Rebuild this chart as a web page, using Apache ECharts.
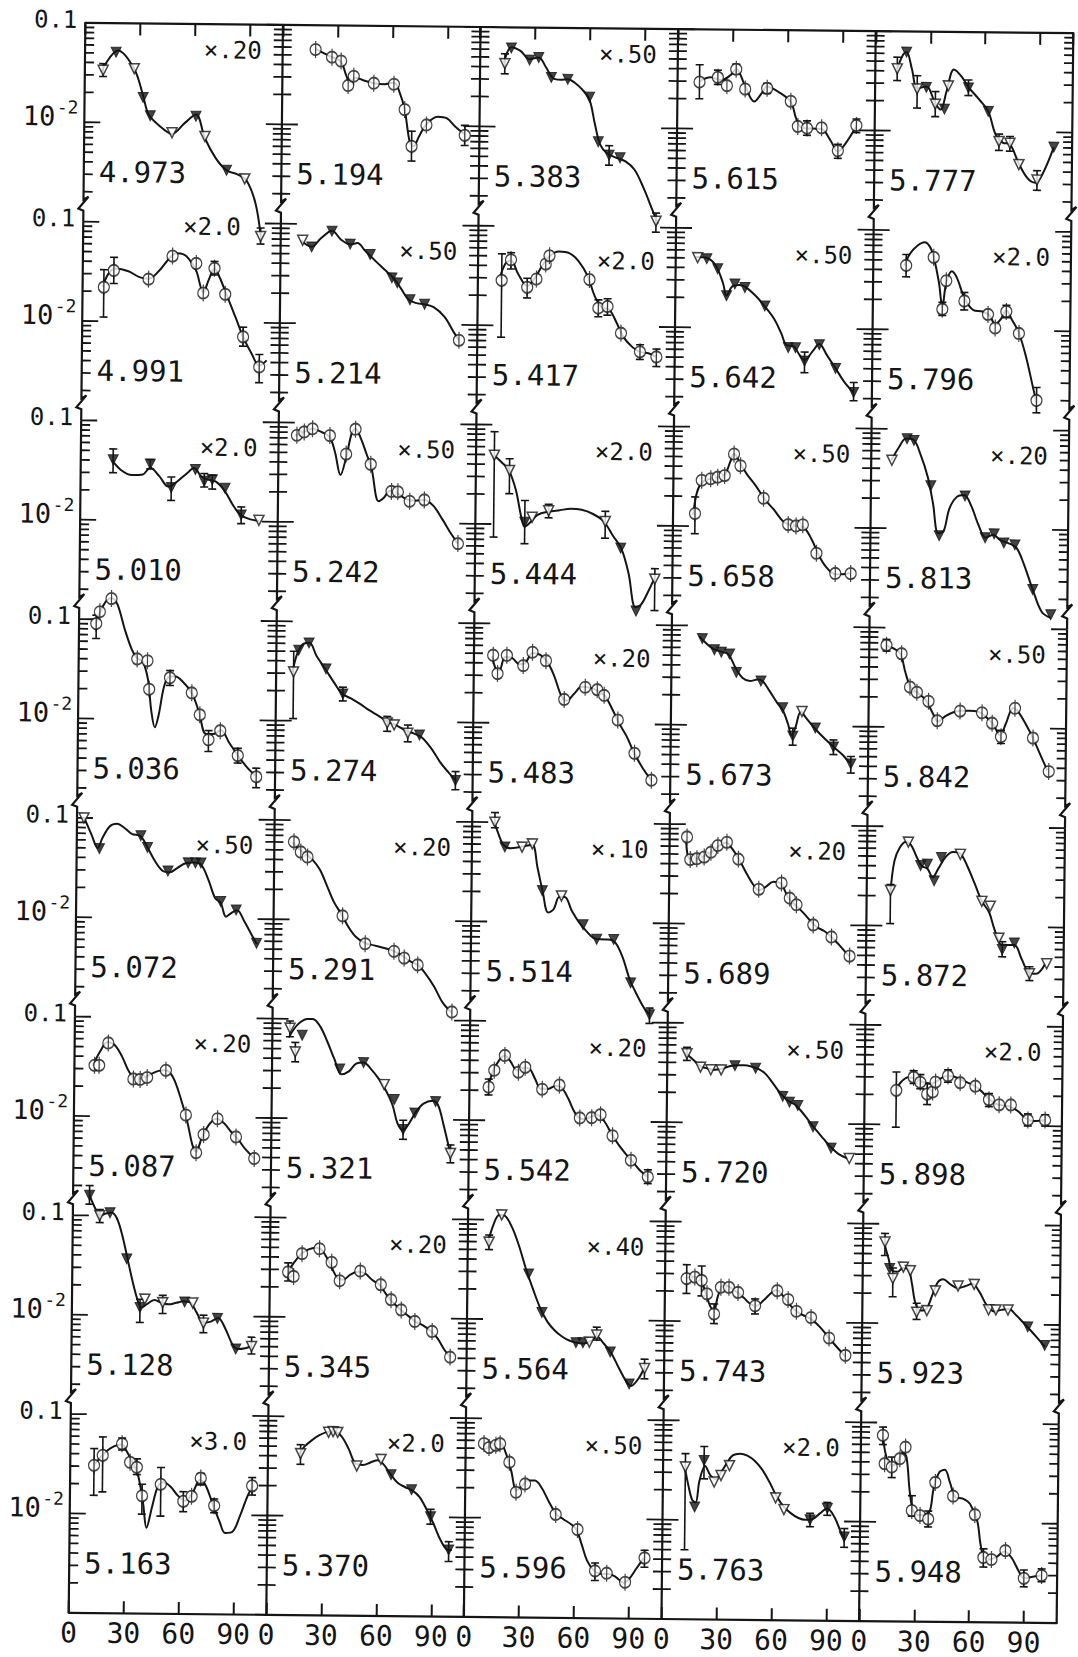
<!DOCTYPE html>
<html>
<head>
<meta charset="utf-8">
<script src="https://cdn.jsdelivr.net/npm/echarts@6/dist/echarts.min.js"></script>
<style>
  html, body { margin: 0; padding: 0; background: #fff; }
  #chart { width: 1078px; height: 1657px; transform: rotate(0.6deg); transform-origin: 571px 823px; }
</style>
</head>
<body>
<div id="chart"></div>
<script>
// Differential cross sections vs. scattering angle, 40 energies (GeV), log scale 1e-3 .. 1e-1.
// Point: [angle, value, kind, errLow?, errHigh?]  kind: o = circle, v = filled triangle, t = open triangle
// Fit: [angle, value] points along the calculated curve.

const ENERGIES = [
  '4.973', '4.991', '5.010', '5.036', '5.072', '5.087', '5.128', '5.163',
  '5.194', '5.214', '5.242', '5.274', '5.291', '5.321', '5.345', '5.370',
  '5.383', '5.417', '5.444', '5.483', '5.514', '5.542', '5.564', '5.596',
  '5.615', '5.642', '5.658', '5.673', '5.689', '5.720', '5.743', '5.763',
  '5.777', '5.796', '5.813', '5.842', '5.872', '5.898', '5.923', '5.948'
];
const SCALES = [
  '×.20', '×2.0', '×2.0', '', '×.50', '×.20', '', '×3.0',
  '', '×.50', '×.50', '', '×.20', '', '×.20', '×2.0',
  '×.50', '×2.0', '×2.0', '×.20', '×.10', '×.20', '×.40', '×.50',
  '', '×.50', '×.50', '', '×.20', '×.50', '', '×2.0',
  '', '×2.0', '×.20', '×.50', '', '×2.0', '', ''
];
const X_TICK_LABELS = ['0', '30', '60', '90'];
const Y_LABEL_TOP = '0.1';
const Y_LABEL_MID = ['10', '-2'];

// ---- column 1 ----
const p4973 = [[10,0.0335,'t',0.029,0.039],[17,0.051,'v'],[27,0.035,'t'],[32,0.018,'v'],[36,0.0118,'v'],[48,0.008,'t'],[61,0.0118,'v'],[66,0.0074,'t'],[78,0.0034,'v'],[88,0.0028,'t'],[97,0.00074,'t',0.00062,0.0009]];
const f4973 = [[9,0.0324],[18,0.0532],[27,0.0348],[32,0.0187],[35,0.0123],[41,0.0094],[48,0.0078],[55,0.0101],[61,0.0123],[66,0.0071],[72,0.0045],[78,0.0034],[84,0.0031],[89,0.0027],[94,0.0016],[97,0.00076]];
const p4991 = [[11.6,0.022,'o',0.011,0.033],[17,0.0325,'o',0.024,0.044],[36,0.0268,'o'],[49,0.046,'o'],[62,0.039,'o'],[66,0.0197,'o'],[72,0.035,'o',0.03,0.041],[78,0.0192,'o'],[88,0.0072,'o',0.0058,0.009],[97,0.0036,'o',0.0025,0.0048]];
const f4991 = [[11,0.022],[14,0.03],[18,0.034],[25,0.032],[31,0.028],[36,0.027],[42,0.033],[47,0.043],[51,0.049],[55,0.048],[58,0.043],[62,0.033],[66,0.02],[69,0.027],[72,0.035],[75,0.028],[79,0.0185],[84,0.011],[88,0.0072],[93,0.0048],[97,0.0037],[101,0.0042]];
const p5010 = [[17.7,0.0405,'v',0.03,0.052],[38,0.0369,'v',0.033,0.041],[49.6,0.0215,'v',0.016,0.0275],[62.7,0.0329,'v'],[67.6,0.0251,'v',0.022,0.03],[72,0.0261,'v',0.021,0.029],[79,0.0215,'v'],[88,0.0116,'v',0.0095,0.014],[97.7,0.0103,'t']];
const f5010 = [[17,0.04],[22,0.032],[28,0.0285],[34,0.029],[38,0.034],[43,0.028],[48,0.022],[53,0.025],[58,0.03],[62,0.034],[66,0.028],[70,0.026],[74,0.025],[79,0.02],[84,0.014],[88,0.0115],[93,0.0105],[98,0.0102]];
const p5036 = [[9.4,0.0906,'o',0.064,0.11],[11.3,0.119,'o'],[17.6,0.162,'o'],[32,0.0403,'o'],[37.6,0.0387,'o'],[38.7,0.02,'o'],[50,0.0263,'o',0.022,0.031],[62,0.0186,'o'],[66.5,0.0112,'o'],[71.4,0.0063,'o',0.0048,0.0078],[77.8,0.0078,'o'],[87.5,0.0044,'o',0.0037,0.0052],[97.7,0.0027,'o',0.0021,0.0033]];
const f5036 = [[9,0.09],[12,0.125],[15,0.155],[18,0.163],[21,0.14],[25,0.08],[29,0.05],[32,0.041],[35,0.038],[38,0.025],[40,0.012],[42,0.0083],[44,0.011],[47,0.022],[50,0.027],[53,0.027],[57,0.024],[62,0.0185],[66,0.012],[70,0.0072],[74,0.0072],[78,0.0079],[83,0.0058],[88,0.0043],[93,0.0033],[98,0.0027]];
const p5072 = [[3.8,0.1,'t'],[12.4,0.0493,'v'],[35,0.0671,'v'],[38.7,0.0512,'v'],[50,0.0298,'v'],[61,0.0362,'v'],[65,0.0362,'v'],[68,0.0362,'v'],[79,0.0149,'v'],[87.5,0.0123,'v'],[98.8,0.0057,'v']];
const f5072 = [[4,0.1],[8,0.068],[11.5,0.05],[14,0.063],[18,0.083],[22,0.088],[26,0.08],[30,0.07],[35,0.066],[39,0.05],[43,0.037],[47,0.03],[51,0.029],[55,0.032],[60,0.036],[64,0.0365],[68,0.035],[72,0.025],[76,0.016],[79,0.0145],[82,0.0105],[85,0.0115],[88,0.0122],[92,0.0095],[96,0.007],[99,0.0056]];
const p5087 = [[11,0.0325,'o'],[13.5,0.0325,'o'],[18.4,0.0547,'o'],[32.3,0.0239,'o'],[36,0.0237,'o'],[39.8,0.0248,'o'],[50,0.0294,'o'],[61.2,0.0105,'o'],[67,0.0044,'o'],[71,0.0067,'o'],[78.5,0.0097,'o'],[88.7,0.0064,'o'],[98.8,0.0039,'o']];
const f5087 = [[10,0.032],[14,0.045],[18,0.056],[22,0.052],[26,0.04],[30,0.028],[34,0.024],[38,0.0245],[42,0.027],[46,0.029],[50,0.0295],[54,0.025],[58,0.016],[62,0.009],[65,0.0052],[67,0.0045],[70,0.0062],[74,0.0085],[78,0.0097],[82,0.0088],[86,0.0072],[90,0.006],[94,0.0048],[99,0.0039]];
const p5128 = [[9,0.16,'v',0.13,0.2],[14.7,0.1,'t',0.085,0.115],[20.3,0.107,'v'],[29.7,0.0369,'v'],[37.2,0.012,'v',0.0085,0.0145],[39.8,0.0146,'t'],[49.6,0.0135,'t',0.0105,0.016],[61.6,0.0138,'v'],[66,0.0135,'t'],[72,0.0085,'t',0.0068,0.0102],[79.6,0.0095,'v'],[89.8,0.0047,'v'],[98.4,0.005,'t',0.0042,0.0062]];
const f5128 = [[9,0.16],[12,0.12],[15,0.1],[18,0.105],[21,0.108],[24,0.095],[27,0.065],[30,0.038],[33,0.022],[36,0.014],[38,0.012],[41,0.013],[45,0.0143],[49,0.0135],[53,0.013],[57,0.0135],[61,0.014],[65,0.0135],[68,0.011],[72,0.0086],[76,0.0088],[80,0.0096],[84,0.0075],[88,0.0052],[91,0.0047],[95,0.0048],[98,0.005]];
const p5163 = [[13,0.0307,'o',0.0153,0.0452],[17.7,0.0387,'o',0.0166,0.0593],[28.2,0.0508,'o',0.044,0.058],[32.7,0.0332,'o'],[36.4,0.0296,'o',0.025,0.036],[39.4,0.0153,'o',0.01,0.02],[49.6,0.0201,'o',0.0096,0.0296],[62,0.0136,'o',0.0107,0.017],[66.5,0.0153,'o'],[71.4,0.0234,'o',0.02,0.026],[78.9,0.0124,'o',0.0105,0.0145],[99.5,0.0198,'o',0.016,0.024]];
const f5163 = [[13,0.031],[16,0.036],[20,0.043],[24,0.048],[28,0.05],[31,0.042],[34,0.033],[37,0.025],[40,0.013],[42,0.0073],[45,0.012],[48,0.019],[51,0.021],[55,0.019],[59,0.0155],[63,0.0138],[67,0.0165],[71,0.0225],[74,0.02],[78,0.013],[82,0.0085],[85,0.0066],[89,0.0068],[93,0.0098],[97,0.0155],[100,0.02]];

// ---- column 2 ----
const p5194 = [[18,0.057,'o'],[27,0.048,'o'],[32,0.044,'o'],[36,0.025,'o'],[39,0.031,'o'],[50,0.0265,'o'],[61,0.026,'o'],[67,0.0145,'o'],[71,0.0062,'o',0.0044,0.0088],[79,0.0102,'o'],[100,0.0081,'o',0.0064,0.0102]];
const f5194 = [[18,0.058],[23,0.052],[27,0.048],[32,0.043],[35,0.031],[37,0.027],[40,0.03],[45,0.028],[50,0.0265],[56,0.026],[61,0.027],[64,0.022],[67,0.0145],[70,0.0068],[72,0.0062],[75,0.0078],[79,0.0104],[85,0.0124],[90,0.012],[95,0.0098],[100,0.0083]];
const p5214 = [[12,0.0685,'t'],[17,0.0587,'v'],[28,0.085,'v'],[38,0.0634,'v'],[49,0.05,'v'],[61,0.0293,'v'],[64,0.0261,'v'],[71,0.0177,'v'],[79,0.016,'v'],[98,0.007,'o']];
const f5214 = [[11,0.068],[17,0.059],[22,0.072],[28,0.086],[33,0.07],[38,0.063],[42,0.065],[46,0.055],[52,0.043],[58,0.034],[62,0.029],[66,0.023],[70,0.018],[74,0.0165],[79,0.016],[84,0.015],[90,0.012],[95,0.0085],[98,0.007]];
const p5242 = [[10,0.0746,'o'],[14,0.0807,'o'],[18.5,0.0871,'o'],[28,0.0746,'o'],[37,0.0488,'o'],[42,0.0871,'o'],[50.5,0.0387,'o'],[62,0.0208,'o'],[65.5,0.0206,'o'],[72,0.0166,'o'],[80,0.0172,'o'],[98.6,0.0063,'o']];
const f5242 = [[9,0.074],[14,0.081],[18,0.087],[24,0.08],[28,0.072],[31,0.05],[34,0.03],[37,0.045],[40,0.08],[42,0.088],[45,0.07],[48,0.05],[51,0.035],[55,0.0165],[58,0.018],[61,0.021],[65,0.02],[70,0.0175],[75,0.0168],[80,0.0172],[85,0.015],[90,0.011],[95,0.0078],[98.6,0.0063]];
const p5274 = [[9.5,0.031,'t',0.0105,0.05],[12.2,0.0513,'v'],[17.8,0.0608,'v'],[27.2,0.0335,'v'],[36.6,0.0188,'v',0.016,0.022],[61,0.0097,'t',0.008,0.0113],[64.8,0.0093,'t'],[72.3,0.0077,'t',0.0063,0.0093],[78.7,0.0074,'v'],[98.6,0.0026,'v',0.0021,0.0032]];
const f5274 = [[9,0.031],[11,0.045],[14,0.058],[18,0.061],[22,0.045],[27,0.033],[32,0.024],[36,0.019],[41,0.017],[46,0.015],[51,0.013],[56,0.0115],[61,0.0101],[66,0.0092],[71,0.0082],[76,0.0076],[80,0.007],[85,0.0055],[90,0.004],[95,0.0031],[99,0.0026]];
const p5291 = [[10.7,0.0604,'o'],[14.5,0.0479,'o'],[18.2,0.0427,'o'],[37.7,0.011,'o'],[50.2,0.0058,'o'],[66,0.0049,'o'],[71.6,0.0042,'o'],[79,0.0036,'o'],[98,0.00122,'o']];
const f5291 = [[10,0.06],[13,0.052],[17,0.046],[21,0.04],[25,0.032],[29,0.022],[33,0.015],[37,0.0115],[41,0.0085],[45,0.0068],[50,0.0059],[55,0.0056],[60,0.0053],[65,0.005],[70,0.0045],[75,0.0039],[79,0.0036],[83,0.003],[88,0.0022],[93,0.0015],[98,0.0012]];
const p5321 = [[9.6,0.0805,'t',0.066,0.095],[12.6,0.0466,'t',0.037,0.058],[16.3,0.0685,'v'],[37,0.0316,'v'],[50,0.0369,'v'],[61.4,0.0223,'t'],[67,0.0158,'v'],[72,0.0079,'v',0.0063,0.0098],[78.3,0.0116,'v'],[89.6,0.0152,'v'],[98,0.0046,'t',0.0037,0.0056]];
const f5321 = [[9,0.065],[12,0.08],[15,0.092],[19,0.1],[22,0.1],[26,0.085],[30,0.06],[34,0.04],[38,0.028],[42,0.03],[46,0.036],[50,0.037],[54,0.032],[58,0.026],[62,0.02],[66,0.014],[69,0.009],[72,0.0078],[75,0.009],[79,0.012],[83,0.0145],[88,0.0155],[91,0.014],[94,0.009],[98,0.0045]];
const p5345 = [[10,0.0284,'o',0.023,0.035],[13,0.0256,'o'],[17.5,0.0435,'o'],[27,0.0489,'o'],[33.7,0.0358,'o'],[38.2,0.0234,'o'],[49.4,0.0295,'o'],[60.7,0.0216,'o'],[66.4,0.0153,'o'],[72,0.0121,'o'],[79.5,0.0093,'o'],[89,0.0074,'o'],[99,0.0041,'o']];
const f5345 = [[10,0.028],[13,0.035],[17,0.043],[21,0.048],[25,0.05],[28,0.048],[31,0.04],[34,0.031],[37,0.025],[40,0.024],[44,0.027],[48,0.029],[52,0.028],[56,0.024],[60,0.0215],[64,0.017],[68,0.014],[72,0.012],[76,0.0105],[80,0.0092],[84,0.0085],[88,0.0075],[92,0.0063],[96,0.0048],[99,0.0041]];
const p5370 = [[17.8,0.0423,'t',0.033,0.052],[33,0.0698,'t'],[35.5,0.071,'t'],[38,0.0698,'t'],[48.6,0.0322,'t'],[61.8,0.0377,'t'],[67.4,0.0265,'v'],[78.7,0.0188,'v'],[89.2,0.0101,'v',0.0085,0.012],[99.3,0.0047,'v',0.0036,0.0057]];
const f5370 = [[17,0.042],[20,0.05],[24,0.058],[28,0.065],[32,0.07],[36,0.071],[40,0.064],[44,0.048],[48,0.034],[52,0.033],[56,0.035],[60,0.037],[63,0.034],[67,0.027],[71,0.022],[75,0.02],[79,0.0185],[83,0.016],[87,0.012],[91,0.0085],[95,0.0058],[99,0.0047],[101,0.0047]];

// ---- column 3 ----
const p5383 = [[13.5,0.043,'t',0.034,0.054],[17,0.062,'v'],[27,0.047,'v'],[32,0.05,'v'],[39,0.0316,'v'],[48,0.0304,'v'],[60,0.0202,'v'],[65,0.0072,'v'],[71,0.0053,'v',0.0042,0.0066],[77,0.005,'v'],[97,0.00116,'t',0.0009,0.0014]];
const f5383 = [[13,0.044],[17,0.063],[22,0.058],[27,0.048],[32,0.05],[36,0.04],[40,0.031],[44,0.03],[48,0.0305],[52,0.028],[56,0.024],[60,0.019],[63,0.011],[66,0.0068],[70,0.0055],[75,0.005],[80,0.0046],[85,0.0038],[90,0.0025],[95,0.0015],[98,0.0011]];
const p5417 = [[13,0.0284,'o',0.0076,0.0525],[18,0.0458,'o',0.037,0.054],[27,0.0243,'o',0.019,0.03],[32,0.0295,'o'],[37,0.0418,'o'],[39,0.0507,'o'],[61,0.0295,'o'],[66,0.0153,'o',0.0125,0.0185],[71,0.0159,'o',0.013,0.019],[78.5,0.0086,'o'],[89,0.0056,'o',0.0047,0.0066],[98,0.005,'o',0.004,0.006]];
const f5417 = [[12,0.03],[15,0.042],[18,0.045],[22,0.033],[27,0.025],[31,0.03],[35,0.04],[39,0.05],[44,0.056],[50,0.054],[55,0.045],[60,0.032],[64,0.02],[68,0.0155],[72,0.0148],[76,0.011],[80,0.0078],[85,0.0062],[89,0.0056],[94,0.0054],[98,0.005]];
const p5444 = [[10,0.0493,'t',0.0074,0.085],[18.4,0.0348,'t',0.0203,0.0456],[27,0.0105,'v',0.0064,0.0174],[31,0.0118,'t'],[40,0.0138,'t',0.0117,0.016],[71,0.0109,'t',0.0074,0.0138],[79.6,0.0059,'v'],[88.3,0.00138,'v'],[98.4,0.0029,'t',0.0014,0.0037]];
const f5444 = [[10,0.049],[14,0.042],[18,0.035],[22,0.022],[25,0.012],[27,0.0095],[30,0.0105],[34,0.0125],[40,0.0135],[46,0.014],[52,0.0145],[58,0.0142],[64,0.013],[70,0.011],[75,0.008],[80,0.0058],[84,0.0033],[88,0.0015],[91,0.0016],[95,0.0022],[98,0.0029]];
const p5483 = [[10.5,0.0479,'o'],[13,0.0313,'o'],[18,0.0479,'o'],[27,0.0379,'o'],[32,0.0518,'o'],[39.4,0.0427,'o'],[49.6,0.0175,'o'],[61,0.0233,'o'],[67.6,0.0221,'o'],[71.4,0.0194,'o'],[79,0.011,'o'],[88.3,0.0051,'o'],[97.7,0.00275,'o']];
const f5483 = [[10,0.047],[12,0.035],[14,0.034],[17,0.046],[21,0.045],[25,0.039],[28,0.04],[32,0.051],[36,0.049],[40,0.042],[44,0.03],[48,0.019],[51,0.017],[55,0.02],[59,0.0235],[64,0.023],[68,0.0215],[72,0.019],[76,0.014],[80,0.01],[84,0.0075],[88,0.0052],[93,0.0036],[98,0.0027]];
const p5514 = [[12.4,0.1,'t',0.088,0.125],[18,0.0565,'v'],[27.4,0.0565,'t'],[33,0.061,'t'],[38.7,0.0207,'v'],[49.2,0.0184,'t'],[61.2,0.0095,'v'],[68.7,0.0068,'v'],[78,0.0068,'v'],[87.5,0.0025,'v'],[98,0.0012,'v',0.00098,0.0014]];
const f5514 = [[12,0.1],[14,0.08],[17,0.06],[21,0.055],[25,0.056],[29,0.058],[33,0.06],[36,0.035],[39,0.02],[42,0.0125],[45,0.0135],[48,0.018],[51,0.018],[55,0.013],[59,0.01],[63,0.0082],[67,0.007],[71,0.0068],[75,0.0068],[79,0.0063],[83,0.0045],[87,0.0027],[91,0.0019],[95,0.0014],[98,0.0012]];
const p5542 = [[10.5,0.0216,'o',0.018,0.026],[13.5,0.0319,'o'],[19.2,0.0451,'o'],[26.7,0.0307,'o'],[30.4,0.0344,'o'],[39.8,0.0208,'o'],[49.2,0.023,'o'],[60.5,0.0108,'o'],[67,0.0109,'o'],[71.8,0.0117,'o'],[78.5,0.0072,'o'],[88.7,0.0041,'o'],[98,0.0028,'o',0.0024,0.0033]];
const f5542 = [[10,0.021],[13,0.032],[16,0.04],[19,0.045],[22,0.04],[26,0.032],[30,0.034],[33,0.033],[36,0.026],[39,0.021],[43,0.021],[47,0.0225],[50,0.022],[54,0.017],[58,0.012],[62,0.0105],[66,0.011],[70,0.0117],[74,0.01],[78,0.0075],[82,0.0058],[86,0.0047],[90,0.0039],[94,0.0032],[98,0.0028]];
const p5564 = [[11.6,0.0594,'t',0.05,0.07],[18.4,0.112,'t'],[33.4,0.0287,'v'],[40.9,0.0118,'v'],[59.7,0.0059,'v'],[63.5,0.0059,'v'],[67,0.006,'t'],[71,0.0071,'t',0.0063,0.0085],[78.5,0.0048,'v'],[89,0.0023,'v'],[97.3,0.0033,'t',0.0026,0.0041]];
const f5564 = [[11,0.059],[14,0.09],[17,0.112],[20,0.11],[24,0.085],[28,0.055],[32,0.032],[36,0.02],[40,0.013],[44,0.0095],[48,0.0078],[52,0.0068],[56,0.0062],[60,0.0059],[64,0.0058],[68,0.0062],[71,0.0068],[75,0.0058],[79,0.0047],[83,0.0034],[87,0.0025],[90,0.0022],[94,0.0026],[97,0.0033]];
const p5596 = [[10,0.0558,'o'],[12.8,0.0509,'o'],[16.5,0.0537,'o'],[18.8,0.0558,'o'],[24,0.0365,'o'],[27.8,0.0182,'o'],[32.7,0.0221,'o'],[49.6,0.011,'o'],[61.6,0.0078,'o'],[71.4,0.003,'o',0.0024,0.0036],[77.8,0.00285,'o'],[87.9,0.00232,'o'],[98.4,0.0041,'o',0.0033,0.0049]];
const f5596 = [[10,0.056],[13,0.051],[16,0.055],[19,0.056],[22,0.045],[25,0.03],[28,0.019],[31,0.021],[34,0.024],[38,0.024],[42,0.02],[46,0.0145],[50,0.011],[54,0.0098],[58,0.0088],[61,0.0078],[64,0.0055],[67,0.0038],[71,0.003],[75,0.0028],[79,0.0028],[83,0.0026],[87,0.0023],[90,0.0025],[94,0.0032],[98,0.0041]];

// ---- column 4 ----
const p5615 = [[12,0.0295,'o',0.02,0.044],[22,0.033,'o',0.028,0.039],[27,0.0273,'o'],[32,0.04,'o',0.036,0.045],[37,0.0253,'o'],[49,0.0259,'o',0.023,0.029],[62,0.0193,'o'],[66,0.0108,'o'],[71,0.0104,'o',0.0088,0.0123],[79,0.0105,'o'],[88,0.0062,'o',0.0052,0.0072],[98,0.0112,'o',0.0095,0.013]];
const f5615 = [[12,0.03],[18,0.033],[24,0.031],[29,0.035],[32,0.04],[37,0.027],[42,0.019],[46,0.023],[49,0.027],[55,0.024],[62,0.019],[65,0.013],[68,0.0105],[74,0.0103],[79,0.0102],[84,0.0078],[88,0.0061],[92,0.0073],[98,0.011]];
const p5642 = [[12,0.0504,'t'],[17,0.0492,'v'],[23,0.0391,'v'],[28,0.021,'v'],[32.5,0.0276,'v'],[38,0.0255,'v'],[49,0.0167,'v'],[62,0.0064,'v'],[66,0.0064,'v'],[71,0.0047,'v',0.0036,0.0058],[79,0.0069,'v'],[88,0.004,'v'],[98,0.0023,'v',0.0019,0.0029]];
const f5642 = [[11,0.051],[17,0.05],[22,0.042],[26,0.028],[28,0.021],[31,0.026],[35,0.027],[38,0.026],[44,0.021],[49,0.0165],[54,0.0125],[58,0.009],[61,0.0068],[65,0.0066],[68,0.0055],[71,0.0048],[75,0.0058],[79,0.007],[83,0.0055],[88,0.004],[93,0.0029],[98,0.0023]];
const p5658 = [[12,0.0134,'o',0.0084,0.0197],[15.5,0.029,'o'],[20.4,0.0301,'o'],[24.2,0.0313,'o'],[28,0.0325,'o'],[33,0.0537,'o'],[36.6,0.041,'o'],[49.4,0.0194,'o'],[63,0.0106,'o'],[67.3,0.0103,'o'],[71,0.0106,'o'],[78.6,0.0055,'o'],[89,0.00346,'o'],[97.4,0.00346,'o']];
const f5658 = [[11,0.013],[13,0.022],[16,0.028],[20,0.03],[24,0.031],[28,0.033],[31,0.045],[33,0.054],[36,0.045],[40,0.034],[45,0.026],[50,0.019],[55,0.015],[60,0.0115],[64,0.0105],[68,0.0103],[72,0.0098],[76,0.0075],[80,0.0052],[84,0.004],[89,0.0034],[93,0.0034],[97,0.0035]];
const p5673 = [[16.7,0.074,'v'],[23.4,0.0573,'v'],[27.2,0.0543,'v'],[31.7,0.0522,'v'],[35.5,0.0341,'v'],[49,0.0281,'v'],[61,0.0152,'v'],[66.7,0.0079,'v',0.0064,0.0095],[71.6,0.014,'t'],[79,0.0096,'v'],[89,0.0062,'v',0.0052,0.0073],[98.6,0.0042,'v',0.0034,0.005]];
const f5673 = [[15,0.078],[19,0.066],[23,0.058],[27,0.055],[31,0.052],[35,0.038],[39,0.03],[43,0.028],[47,0.029],[50,0.028],[54,0.022],[58,0.017],[61,0.0145],[64,0.0105],[66,0.008],[68,0.0095],[71,0.014],[74,0.012],[78,0.0098],[82,0.0082],[86,0.007],[90,0.006],[94,0.0052],[98,0.0043]];
const p5689 = [[9.5,0.0745,'o'],[11.4,0.0441,'o'],[15,0.0451,'o'],[19,0.0469,'o'],[22.7,0.0526,'o'],[26.4,0.0615,'o'],[31.3,0.0664,'o'],[37.7,0.0451,'o'],[49,0.0225,'o'],[61.4,0.0262,'o'],[66,0.0185,'o'],[69.7,0.0159,'o'],[79,0.01,'o'],[89,0.0076,'o'],[99,0.0049,'o']];
const f5689 = [[9,0.07],[11,0.045],[15,0.045],[19,0.048],[23,0.053],[27,0.061],[31,0.066],[34,0.058],[38,0.045],[42,0.033],[46,0.025],[49,0.022],[53,0.024],[57,0.027],[61,0.026],[65,0.019],[69,0.0158],[73,0.0135],[77,0.0112],[81,0.0095],[85,0.0087],[89,0.0076],[93,0.0064],[97,0.0053],[99,0.0049]];
const p5720 = [[10.7,0.0492,'t',0.042,0.057],[18.2,0.0361,'t'],[23.8,0.034,'t'],[29.5,0.034,'t'],[37,0.0376,'v'],[48.3,0.0356,'v'],[63.3,0.0187,'v'],[67,0.0164,'v'],[71.6,0.0152,'v'],[80,0.0093,'v'],[90,0.0057,'v'],[100,0.0045,'t']];
const f5720 = [[10,0.05],[14,0.043],[18,0.037],[22,0.035],[26,0.034],[30,0.035],[34,0.037],[38,0.038],[42,0.038],[46,0.037],[50,0.035],[54,0.031],[58,0.025],[62,0.02],[66,0.017],[70,0.0155],[74,0.013],[78,0.0105],[82,0.0085],[86,0.007],[90,0.0058],[94,0.005],[99,0.0045]];
const p5743 = [[11.8,0.0268,'o',0.019,0.037],[16.3,0.0278,'o'],[20,0.0258,'o',0.018,0.036],[23,0.0189,'o'],[27,0.0119,'o',0.0095,0.015],[30.6,0.0221,'o'],[35,0.0221,'o'],[40,0.0197,'o'],[49.4,0.0145,'o',0.012,0.017],[61.4,0.0207,'o'],[67.4,0.0169,'o'],[72,0.0129,'o'],[80,0.0112,'o'],[90,0.007,'o'],[99,0.0047,'o']];
const f5743 = [[11,0.027],[15,0.028],[19,0.027],[22,0.02],[25,0.014],[27,0.013],[29,0.018],[32,0.023],[35,0.0225],[39,0.02],[43,0.0175],[47,0.015],[50,0.0145],[54,0.0165],[58,0.0195],[61,0.021],[65,0.018],[69,0.0145],[73,0.0125],[77,0.0115],[81,0.0105],[85,0.009],[90,0.007],[95,0.0055],[99,0.0046]];
const p5763 = [[12.2,0.0341,'t',0.005,0.0464],[17.5,0.0135,'v'],[22.4,0.0398,'v',0.026,0.055],[28,0.0242,'t'],[31.7,0.0282,'t'],[36.3,0.0355,'t'],[61.7,0.017,'t'],[66.3,0.013,'t'],[80.6,0.0103,'v',0.0088,0.012],[90,0.0135,'v',0.0115,0.0155],[99.4,0.007,'v',0.0055,0.0085]];
const f5763 = [[12,0.033],[14,0.022],[16,0.016],[18,0.015],[20,0.025],[23,0.035],[26,0.028],[29,0.026],[32,0.031],[35,0.038],[38,0.045],[42,0.047],[46,0.045],[50,0.04],[54,0.033],[58,0.025],[62,0.018],[66,0.014],[70,0.012],[74,0.0108],[78,0.0103],[82,0.0105],[86,0.012],[90,0.0135],[94,0.011],[98,0.0075],[100,0.0066]];

// ---- column 5 ----
const p5777 = [[12,0.042,'t',0.032,0.055],[17,0.062,'v'],[23,0.0265,'t',0.017,0.036],[28,0.0275,'v'],[33,0.0187,'t',0.014,0.025],[38,0.0167,'v'],[40,0.0286,'t'],[51,0.0275,'v',0.023,0.033],[62,0.016,'v'],[68,0.008,'t',0.0065,0.0095],[74,0.0077,'t',0.0064,0.009],[79,0.0047,'t'],[89,0.0033,'t',0.0026,0.0041],[98,0.0071,'v']];
const f5777 = [[12,0.042],[15,0.058],[17,0.062],[20,0.042],[23,0.027],[28,0.028],[33,0.019],[36,0.0165],[39,0.025],[43,0.042],[47,0.036],[51,0.028],[57,0.021],[62,0.016],[66,0.0095],[70,0.0078],[74,0.0075],[79,0.0048],[84,0.0034],[88,0.0031],[92,0.0038],[98,0.0071]];
const p5796 = [[18,0.0443,'o',0.034,0.057],[33,0.0537,'o'],[38,0.0162,'o',0.014,0.019],[40,0.0313,'o'],[50,0.0197,'o',0.016,0.024],[63,0.0145,'o'],[67,0.0106,'o'],[73,0.0156,'o',0.0135,0.018],[80,0.0094,'o'],[90,0.002,'o',0.0015,0.0027]];
const f5796 = [[17,0.044],[20,0.058],[24,0.07],[28,0.076],[31,0.068],[33,0.054],[36,0.03],[38,0.017],[40,0.03],[43,0.039],[46,0.033],[50,0.021],[55,0.016],[60,0.0155],[64,0.014],[67,0.0115],[70,0.013],[73,0.016],[76,0.013],[80,0.0095],[84,0.0055],[88,0.0027],[90,0.0019]];
const p5813 = [[11.3,0.0483,'t'],[19.5,0.0798,'v'],[23.3,0.0768,'v'],[32.7,0.027,'v'],[37.6,0.0085,'v'],[51.5,0.0215,'v'],[62.7,0.0082,'v'],[67.6,0.009,'v'],[73,0.0073,'v'],[79,0.007,'v'],[89,0.0025,'v'],[99,0.0014,'v']];
const f5813 = [[11,0.048],[15,0.065],[19,0.08],[23,0.078],[27,0.055],[31,0.033],[34,0.018],[37,0.009],[40,0.0095],[43,0.016],[47,0.021],[51,0.022],[55,0.017],[59,0.011],[63,0.0082],[67,0.0088],[71,0.0078],[76,0.0072],[80,0.0065],[84,0.0045],[89,0.0025],[94,0.0015],[99,0.0013]];
const p5842 = [[9.4,0.0665,'o',0.058,0.076],[17.7,0.0548,'o'],[22.5,0.0253,'o'],[26.3,0.0225,'o'],[32.7,0.0183,'o'],[37.6,0.0117,'o'],[50,0.0147,'o'],[62,0.0142,'o'],[67.6,0.0112,'o'],[72.5,0.0082,'o',0.007,0.0095],[80,0.0159,'o'],[90,0.008,'o'],[98.8,0.0037,'o']];
const f5842 = [[9,0.066],[13,0.062],[17,0.055],[20,0.035],[23,0.025],[27,0.022],[31,0.019],[35,0.014],[38,0.0115],[42,0.013],[46,0.0142],[50,0.0148],[55,0.0148],[60,0.0145],[64,0.013],[68,0.011],[72,0.0085],[75,0.011],[79,0.016],[82,0.0145],[86,0.011],[90,0.008],[94,0.0055],[98,0.0038]];
const p5872 = [[13,0.0227,'t',0.0105,0.026],[22.5,0.0697,'t'],[29.3,0.0406,'v'],[33,0.042,'v'],[36.8,0.0286,'v'],[40.6,0.0492,'v'],[51,0.0532,'t'],[63,0.018,'t'],[67.6,0.0161,'t'],[72.5,0.0077,'t'],[74.4,0.0059,'v',0.005,0.0071],[81,0.0069,'v'],[89.4,0.0034,'t',0.0029,0.004],[98.8,0.0043,'t']];
const f5872 = [[13,0.022],[15,0.045],[18,0.062],[21,0.07],[24,0.065],[27,0.05],[30,0.04],[33,0.038],[36,0.031],[39,0.038],[43,0.05],[47,0.056],[51,0.054],[55,0.04],[59,0.027],[63,0.018],[67,0.014],[70,0.0095],[74,0.0066],[77,0.0066],[81,0.0066],[85,0.0048],[89,0.0035],[93,0.0034],[98,0.0043]];
const p5898 = [[17.3,0.0221,'o',0.0094,0.0338],[26.7,0.0301,'o',0.026,0.035],[30.4,0.0268,'o',0.023,0.032],[34.2,0.0204,'o',0.016,0.026],[37.2,0.0215,'o'],[38.7,0.027,'o'],[45.5,0.0313,'o',0.027,0.036],[52.2,0.0268,'o'],[60.5,0.0248,'o'],[68,0.0182,'o',0.0155,0.021],[73.6,0.0162,'o'],[80,0.0162,'o'],[89.4,0.0115,'o',0.01,0.0132],[98.8,0.0115,'o',0.01,0.013]];
const f5898 = [[17,0.022],[20,0.027],[24,0.03],[28,0.029],[32,0.027],[36,0.026],[40,0.028],[44,0.031],[48,0.031],[52,0.029],[56,0.027],[60,0.025],[64,0.022],[68,0.0185],[72,0.0165],[76,0.016],[80,0.0155],[84,0.014],[88,0.012],[92,0.0112],[96,0.0113],[99,0.0115]];
const p5923 = [[12,0.0656,'t',0.048,0.08],[14.7,0.0355,'v'],[16.5,0.0282,'t',0.0185,0.036],[22.2,0.0368,'t'],[26,0.034,'t'],[29.7,0.013,'t',0.011,0.016],[35.3,0.0135,'t'],[39.8,0.0214,'t'],[52.2,0.0241,'t'],[61,0.0251,'t'],[69,0.014,'t'],[73,0.014,'t'],[79.6,0.014,'t'],[90.5,0.0095,'v'],[99.9,0.0062,'v']];
const f5923 = [[12,0.06],[14,0.045],[16,0.034],[19,0.033],[22,0.036],[25,0.035],[27,0.025],[29,0.016],[32,0.0135],[35,0.014],[38,0.019],[41,0.026],[44,0.028],[48,0.025],[52,0.023],[56,0.024],[60,0.0255],[64,0.021],[68,0.0155],[72,0.0135],[76,0.014],[80,0.0143],[84,0.0125],[88,0.0105],[92,0.0088],[96,0.0073],[100,0.006]];
const p5948 = [[12,0.0745,'o',0.06,0.09],[13.1,0.0386,'o'],[17,0.0358,'o',0.028,0.045],[21.4,0.0435,'o'],[24.4,0.0569,'o'],[28.2,0.0131,'o',0.0115,0.0185],[32.7,0.0117,'o'],[37.2,0.0108,'o',0.009,0.013],[40.9,0.0253,'o'],[50.7,0.0185,'o'],[62.7,0.0121,'o'],[67.6,0.0045,'o',0.0036,0.0055],[72,0.0043,'o'],[79.6,0.0053,'o'],[89.8,0.0028,'o',0.0023,0.0034],[99.5,0.003,'o',0.0026,0.0035]];
const f5948 = [[12,0.075],[14,0.045],[17,0.037],[20,0.04],[23,0.05],[25,0.045],[27,0.02],[29,0.013],[32,0.0118],[35,0.012],[38,0.013],[40,0.022],[43,0.032],[46,0.034],[49,0.025],[52,0.018],[56,0.0175],[60,0.0155],[64,0.0105],[66,0.006],[68,0.0045],[71,0.0043],[75,0.0046],[79,0.0052],[83,0.0045],[87,0.0033],[90,0.0028],[94,0.0029],[99,0.003]];

const POINTS = [p4973,p4991,p5010,p5036,p5072,p5087,p5128,p5163,
                p5194,p5214,p5242,p5274,p5291,p5321,p5345,p5370,
                p5383,p5417,p5444,p5483,p5514,p5542,p5564,p5596,
                p5615,p5642,p5658,p5673,p5689,p5720,p5743,p5763,
                p5777,p5796,p5813,p5842,p5872,p5898,p5923,p5948];
const FITS = [f4973,f4991,f5010,f5036,f5072,f5087,f5128,f5163,
              f5194,f5214,f5242,f5274,f5291,f5321,f5345,f5370,
              f5383,f5417,f5444,f5483,f5514,f5542,f5564,f5596,
              f5615,f5642,f5658,f5673,f5689,f5720,f5743,f5763,
              f5777,f5796,f5813,f5842,f5872,f5898,f5923,f5948];

// ---- layout and style ----
const INK = '#151515';
const FONT = '"DejaVu Sans Mono", monospace';
const ROWS = 8, COLS = 5;
const LEFT = 77, TOP = 28, CELL_W = 197.6, CELL_H = 198.75;
const X_MIN = 0, X_MAX = 108, X_STEP = 30;
const Y_MIN = 0.001, Y_MAX = 0.1;
const MINOR_TICKS = [0.002,0.003,0.004,0.005,0.006,0.007,0.008,0.009,0.02,0.03,0.04,0.05,0.06,0.07,0.08,0.09];
const MAJOR_TICKS = [0.01, 0.1];
// per-panel nudges of the scale-factor label: [dx, dy] in px
const SCALE_NUDGE = { 1: [-19, -22], 17: [0, 8], 19: [0, 8] };

const SYMBOLS = {
  o: { symbol: 'path://M6,0L6,18M0,9A6,6,0,1,1,12,9A6,6,0,1,1,0,9Z', symbolSize: [11, 17], symbolRotate: 0,
       itemStyle: { color: '#fff', borderColor: INK, borderWidth: 1.5 } },
  v: { symbol: 'triangle', symbolSize: 10, symbolRotate: 180,
       itemStyle: { color: INK, borderColor: INK, borderWidth: 1 } },
  t: { symbol: 'triangle', symbolSize: 10, symbolRotate: 180,
       itemStyle: { color: '#fff', borderColor: INK, borderWidth: 1.5 } }
};

function textEl(x, y, s, size, align, va) {
  return { type: 'text', x: x, y: y,
    style: { text: s, font: size + 'px ' + FONT, fill: INK,
             textAlign: align, align: align, textVerticalAlign: va, verticalAlign: va } };
}
function polyEl(pts, w) {
  return { type: 'polyline', shape: { points: pts }, style: { stroke: INK, lineWidth: w, fill: 'none' } };
}

// panel frame: vertical rules with break marks, log ticks and the panel texts
function frameRenderer(k, row, col) {
  return function (params, api) {
    const tl = api.coord([X_MIN, Y_MAX]);
    const br = api.coord([X_MAX, Y_MIN]);
    const x0 = tl[0], y0 = tl[1], x1 = br[0], y1 = br[1];
    const kids = [];
    const edges = col === COLS - 1 ? [x0, x1] : [x0];
    edges.forEach(function (x) {
      if (row < ROWS - 1) {
        const zc = y1 - 17;
        kids.push(polyEl([[x, y0], [x, zc - 5], [x + 5, zc - 8], [x - 5, zc + 4], [x, zc + 6], [x, y1]], 2.2));
      } else {
        kids.push(polyEl([[x, y0], [x, y1]], 2.2));
      }
    });
    MINOR_TICKS.concat(MAJOR_TICKS).forEach(function (v) {
      const y = api.coord([X_MIN, v])[1];
      const len = MAJOR_TICKS.indexOf(v) >= 0 ? 16 : 9;
      kids.push(polyEl([[x0, y], [x0 + len, y]], 1.8));
      kids.push(polyEl([[x1, y], [x1 - len, y]], 1.8));
    });
    kids.push(textEl(x0 + 15, y0 + 149, ENERGIES[k], 29, 'left', 'middle'));
    if (SCALES[k]) {
      const n = SCALE_NUDGE[k] || [0, 0];
      kids.push(textEl(x1 - 21 + n[0], y0 + 26 + n[1], SCALES[k], 24, 'right', 'middle'));
    }
    if (col === 0) {
      const yd = api.coord([X_MIN, 0.01])[1];
      kids.push(textEl(x0 - 8, y0 - 3, Y_LABEL_TOP, 24, 'right', 'middle'));
      kids.push(textEl(x0 - 29, yd - 6, Y_LABEL_MID[0], 27, 'right', 'middle'));
      kids.push(textEl(x0 - 6, yd - 15, Y_LABEL_MID[1], 18, 'right', 'middle'));
    }
    return { type: 'group', children: kids };
  };
}

function errRenderer(params, api) {
  const x = api.value(0);
  const a = api.coord([x, api.value(2)]);
  const b = api.coord([x, api.value(3)]);
  return { type: 'group', children: [
    polyEl([[a[0], a[1]], [b[0], b[1]]], 1.6),
    polyEl([[a[0] - 4, a[1]], [a[0] + 4, a[1]]], 1.6),
    polyEl([[b[0] - 4, b[1]], [b[0] + 4, b[1]]], 1.6)
  ] };
}

const grid = [], xAxis = [], yAxis = [], series = [];
for (let k = 0; k < ROWS * COLS; k++) {
  const col = Math.floor(k / ROWS), row = k % ROWS;
  grid.push({ left: LEFT + col * CELL_W, top: TOP + row * CELL_H, width: CELL_W, height: CELL_H });
  const edge = row === 0 || row === ROWS - 1;
  xAxis.push({
    gridIndex: k, type: 'value', min: X_MIN, max: X_MAX, interval: X_STEP,
    show: edge, position: row === 0 ? 'top' : 'bottom',
    axisLine: { show: true, lineStyle: { color: INK, width: 2.2 } },
    axisTick: { show: true, inside: true, length: 12, lineStyle: { color: INK, width: 2 } },
    axisLabel: {
      show: row === ROWS - 1, margin: 6, color: INK, fontSize: 28, fontFamily: FONT,
      showMaxLabel: false,
      formatter: function (v) { const i = Math.round(v / X_STEP); return (v % X_STEP === 0 && X_TICK_LABELS[i]) ? X_TICK_LABELS[i] : ''; }
    },
    splitLine: { show: false }
  });
  yAxis.push({ gridIndex: k, type: 'log', logBase: 10, min: Y_MIN, max: Y_MAX, show: false, splitLine: { show: false } });

  series.push({
    type: 'custom', xAxisIndex: k, yAxisIndex: k, silent: true, z: 1,
    renderItem: frameRenderer(k, row, col), data: [[X_MIN, Y_MAX]]
  });
  series.push({
    type: 'line', xAxisIndex: k, yAxisIndex: k, silent: true, z: 2, clip: false,
    smooth: 0.35, showSymbol: false, symbol: 'none',
    lineStyle: { color: INK, width: 2 },
    data: FITS[k].map(function (p) { return [p[0], p[1]]; })
  });
  const withErr = POINTS[k].filter(function (p) { return p.length >= 5; });
  series.push({
    type: 'custom', xAxisIndex: k, yAxisIndex: k, silent: true, z: 3, clip: false,
    renderItem: errRenderer, encode: { x: 0, y: 1 },
    data: withErr.map(function (p) { return [p[0], p[1], p[3], p[4]]; })
  });
  series.push({
    type: 'scatter', xAxisIndex: k, yAxisIndex: k, silent: true, z: 4, clip: false,
    data: POINTS[k].map(function (p) {
      const s = SYMBOLS[p[2]];
      return { value: [p[0], p[1]], symbol: s.symbol, symbolSize: s.symbolSize, symbolRotate: s.symbolRotate, itemStyle: s.itemStyle };
    })
  });
}

const chart = echarts.init(document.getElementById('chart'), null, { renderer: 'svg' });
chart.setOption({
  backgroundColor: '#fff',
  animation: false,
  grid: grid, xAxis: xAxis, yAxis: yAxis, series: series
});
</script>
</body>
</html>
